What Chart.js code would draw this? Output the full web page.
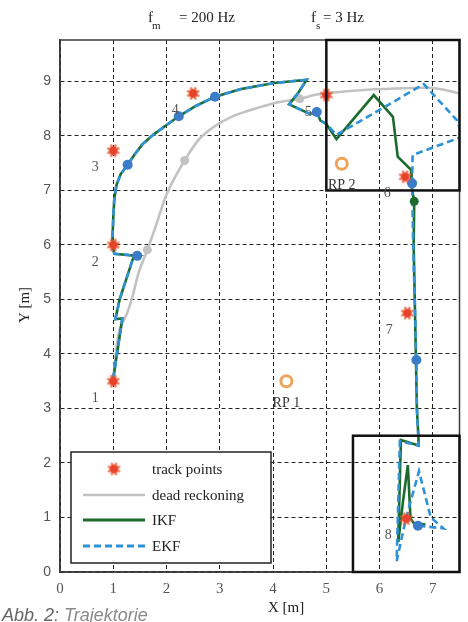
<!DOCTYPE html>
<html><head><meta charset="utf-8">
<script src="https://cdn.jsdelivr.net/npm/chart.js@4.4.1/dist/chart.umd.min.js"></script>
<style>html,body{margin:0;padding:0;background:#fff;}canvas{display:block;}</style>
</head><body>
<canvas id="c" width="468" height="622"></canvas>
<script>
// ---- data ----
const xTicks = [0,1,2,3,4,5,6,7];
const yTicks = [0,1,2,3,4,5,6,7,8,9];
const xMax = 7.5, yMax = 9.76;

const trackLabels = ['1','2','3','4','5','6','7','8'];
const trackX = [1.0, 1.0, 1.0, 2.5, 5.0, 6.48, 6.52, 6.5];
const trackY = [3.5, 6.0, 7.73, 8.78, 8.75, 7.25, 4.75, 0.98];

const rpLabels = ['RP 1','RP 2'];
const rpX = [4.25, 5.29];
const rpY = [3.5, 7.49];

const drX = [1.0,1.06,1.12,1.2,1.26,1.36,1.48,1.64,1.8,2.01,2.34,2.66,3.22,4.02,4.5,4.82,5.5,6.06,6.99,7.6];
const drY = [3.55,4.1,4.45,4.62,4.75,5.05,5.5,5.91,6.35,6.95,7.55,7.99,8.35,8.6,8.68,8.76,8.83,8.86,8.88,8.76];
const drDotX = [1.64, 2.34, 4.5];
const drDotY = [5.91, 7.55, 8.68];

const ikfX = [1.0,1.17,1.04,1.12,1.38,1.45,1.02,0.98,1.0,1.02,1.06,1.14,1.27,1.4,1.55,1.75,2.0,2.23,2.55,2.91,3.4,4.02,4.63,4.48,4.3,4.7,4.82,4.89,5.0,
              5.19,5.89,6.25,6.34,6.59,6.6,6.65,6.64,6.66,6.68,6.7,6.73,6.73,6.4,6.35,6.44,6.53,6.58,6.64,6.86];
const ikfY = [3.55,4.65,4.64,5.0,5.78,5.8,5.84,6.0,6.5,6.85,7.1,7.3,7.47,7.66,7.85,8.02,8.2,8.36,8.55,8.72,8.86,8.97,9.03,8.8,8.58,8.4,8.44,8.28,8.22,
              7.94,8.75,8.35,7.62,7.38,7.07,6.8,6.0,5.0,4.0,3.0,2.45,2.32,2.42,0.55,1.3,1.96,0.98,0.9,0.87];
const ikfDotX = [6.65];
const ikfDotY = [6.8];

const ekfX = [1.0,1.17,1.04,1.12,1.38,1.45,1.02,0.98,1.0,1.02,1.06,1.14,1.27,1.4,1.55,1.75,2.0,2.23,2.55,2.91,3.4,4.02,4.63,4.48,4.3,4.7,4.82,4.89,5.0,
              5.19,6.83,7.45,7.56,6.62,6.61,6.63,6.66,6.69,6.7,6.73,6.73,6.38,6.32,6.5,6.74,6.96,7.2,6.72];
const ekfY = [3.55,4.65,4.64,5.0,5.78,5.8,5.84,6.0,6.5,6.85,7.1,7.3,7.47,7.66,7.85,8.02,8.2,8.36,8.55,8.72,8.86,8.97,9.03,8.8,8.58,8.4,8.44,8.28,8.22,
              8.02,8.95,8.29,7.99,7.65,7.13,6.0,5.0,3.89,3.0,2.45,2.32,2.4,0.2,1.0,1.85,1.0,0.8,0.85];
const ekfDotX = [1.45,1.27,2.23,2.91,4.82,6.61,6.69,6.72];
const ekfDotY = [5.8,7.47,8.36,8.72,8.44,7.13,3.89,0.85];

const boxX0 = [5.0, 5.5];
const boxX1 = [7.5, 7.5];
const boxY0 = [7.0, 0.0];
const boxY1 = [9.76, 2.5];

const legendLabels = ['track points','dead reckoning','IKF','EKF'];

// ---- styles ----
const C_RED = '#e5432a', C_GRAY = '#c2c2c2', C_GREEN = '#1b6b2d', C_BLUE = '#2f92d8', C_DOT = '#3b7cc9', C_RP = '#f0a35a';
const SERIF = '"Liberation Serif","Times New Roman",serif';
const SANS = '"Liberation Sans",Arial,sans-serif';

function makeStar(){
  const cv = document.createElement('canvas'); cv.width = 15; cv.height = 15;
  const g = cv.getContext('2d'); const c = 7.5;
  g.strokeStyle = 'rgba(236,90,50,0.8)'; g.lineWidth = 2.6; g.lineCap = 'round';
  for (let k = 0; k < 4; k++) {
    const a = k * Math.PI / 4 + Math.PI / 8;
    g.beginPath(); g.moveTo(c - 5.5 * Math.cos(a), c - 5.5 * Math.sin(a)); g.lineTo(c + 5.5 * Math.cos(a), c + 5.5 * Math.sin(a)); g.stroke();
  }
  g.fillStyle = C_RED; g.beginPath(); g.arc(c, c, 4.2, 0, Math.PI * 2); g.fill();
  return cv;
}
const starImg = makeStar();

const pts = (xs, ys) => xs.map((x, i) => ({x, y: ys[i]}));

const deco = {
  id: 'deco',
  beforeDraw(c){ const g = c.ctx; g.save(); g.fillStyle = '#fff'; g.fillRect(0,0,c.width,c.height); g.restore(); },
  afterDatasetsDraw(c){
    const g = c.ctx, xs = c.scales.x, ys = c.scales.y, a = c.chartArea;
    g.save();
    // frame
    g.strokeStyle = '#3a3a3a'; g.lineWidth = 1.5; g.setLineDash([]);
    g.strokeRect(a.left, a.top, a.right - a.left, a.bottom - a.top);
    // zoom boxes
    g.strokeStyle = '#111'; g.lineWidth = 2.5;
    for (let i = 0; i < boxX0.length; i++) {
      const x0 = xs.getPixelForValue(boxX0[i]), x1 = xs.getPixelForValue(boxX1[i]);
      const y0 = ys.getPixelForValue(boxY0[i]), y1 = ys.getPixelForValue(boxY1[i]);
      g.strokeRect(x0, y1, x1 - x0, y0 - y1);
    }
    // point labels
    g.textAlign = 'center'; g.textBaseline = 'middle';
    g.font = '14px ' + SERIF; g.fillStyle = '#555';
    trackLabels.forEach((t, i) => g.fillText(t, xs.getPixelForValue(trackX[i]) - 18, ys.getPixelForValue(trackY[i]) + 17));
    g.fillStyle = '#333';
    rpLabels.forEach((t, i) => g.fillText(t, xs.getPixelForValue(rpX[i]), ys.getPixelForValue(rpY[i]) + 22));
    // legend
    const L = a.left + 11, B = a.bottom - 9, W = 200, H = 111, T = B - H;
    g.fillStyle = '#fff'; g.fillRect(L, T, W, H);
    g.strokeStyle = '#222'; g.lineWidth = 1.5; g.strokeRect(L, T, W, H);
    const rows = [T + 17, T + 43, T + 68, T + 94];
    const sx0 = L + 12, sx1 = L + 74, tx = L + 81;
    g.drawImage(starImg, (sx0 + sx1) / 2 - 7.5, rows[0] - 7.5);
    g.lineWidth = 2.5;
    g.strokeStyle = C_GRAY; g.beginPath(); g.moveTo(sx0, rows[1]); g.lineTo(sx1, rows[1]); g.stroke();
    g.strokeStyle = C_GREEN; g.lineWidth = 3; g.beginPath(); g.moveTo(sx0, rows[2]); g.lineTo(sx1, rows[2]); g.stroke();
    g.strokeStyle = C_BLUE; g.setLineDash([7,4]); g.beginPath(); g.moveTo(sx0, rows[3]); g.lineTo(sx1, rows[3]); g.stroke();
    g.setLineDash([]);
    g.textAlign = 'left'; g.font = '15px ' + SERIF; g.fillStyle = '#222';
    legendLabels.forEach((t, i) => g.fillText(t, tx, rows[i] + 1));
    g.restore();
  },
  afterDraw(c){
    const g = c.ctx;
    g.save();
    g.fillStyle = '#222'; g.textBaseline = 'alphabetic'; g.textAlign = 'left';
    // header: f_m = 200 Hz   f_s = 3 Hz
    g.font = '15px ' + SERIF;
    g.fillText('f', 148, 22); g.fillText('= 200 Hz', 179, 22);
    g.fillText('f', 311, 22); g.fillText('= 3 Hz', 323, 22);
    g.font = '11px ' + SERIF;
    g.fillText('m', 152, 29); g.fillText('s', 316, 29);
    // axis titles
    g.font = '15px ' + SERIF; g.textAlign = 'center'; g.textBaseline = 'middle';
    g.fillText('X [m]', 286, 608);
    g.save(); g.translate(25, 305); g.rotate(-Math.PI / 2); g.fillText('Y [m]', 0, 0); g.restore();
    // caption
    g.textAlign = 'left'; g.textBaseline = 'alphabetic';
    g.font = 'italic 18px ' + SANS;
    g.fillStyle = '#666'; g.fillText('Abb. 2:', 2, 621);
    const w = g.measureText('Abb. 2: ').width;
    g.fillStyle = '#8a8a8a'; g.fillText('Trajektorie', 2 + w, 621);
    g.restore();
  }
};

new Chart(document.getElementById('c'), {
  type: 'scatter',
  data: {
    datasets: [
      { label: 'track points', data: pts(trackX, trackY), pointStyle: starImg, pointRadius: 7, showLine: false },
      { label: 'RP', data: pts(rpX, rpY), pointStyle: 'circle', pointRadius: 5.5, borderWidth: 3, borderColor: C_RP, backgroundColor: '#fff', showLine: false },
      { label: 'EKF dots', data: pts(ekfDotX, ekfDotY), pointRadius: 5, backgroundColor: C_DOT, borderColor: C_DOT, borderWidth: 0, showLine: false },
      { label: 'IKF dots', data: pts(ikfDotX, ikfDotY), pointRadius: 4.5, backgroundColor: C_GREEN, borderColor: C_GREEN, borderWidth: 0, showLine: false },
      { label: 'EKF', data: pts(ekfX, ekfY), showLine: true, borderColor: C_BLUE, borderWidth: 2.6, borderDash: [7,4], pointRadius: 0, tension: 0 },
      { label: 'IKF', data: pts(ikfX, ikfY), showLine: true, borderColor: C_GREEN, borderWidth: 2.6, pointRadius: 0, tension: 0 },
      { label: 'DR dots', data: pts(drDotX, drDotY), pointRadius: 4.5, backgroundColor: C_GRAY, borderColor: C_GRAY, borderWidth: 0, showLine: false },
      { label: 'dead reckoning', data: pts(drX, drY), showLine: true, borderColor: C_GRAY, borderWidth: 2.6, pointRadius: 0, tension: 0.3 }
    ]
  },
  options: {
    responsive: false, animation: false, devicePixelRatio: 1,
    layout: { padding: { top: 40, right: 4, left: 0, bottom: 0 } },
    plugins: { legend: { display: false }, tooltip: { enabled: false } },
    scales: {
      x: {
        type: 'linear', min: 0, max: xMax,
        afterBuildTicks: s => { s.ticks = xTicks.map(v => ({value: v})); },
        afterFit: s => { s.height = 50; },
        grid: { color: '#222', lineWidth: 1, drawTicks: false },
        border: { display: true, color: '#3a3a3a', width: 1.5, dash: [4,3] },
        ticks: { padding: 8, color: '#555', font: { family: SERIF, size: 15 }, maxRotation: 0 }
      },
      y: {
        type: 'linear', min: 0, max: yMax,
        afterBuildTicks: s => { s.ticks = yTicks.map(v => ({value: v})); },
        afterFit: s => { s.width = 60; },
        grid: { color: '#222', lineWidth: 1, drawTicks: false },
        border: { display: true, color: '#3a3a3a', width: 1.5, dash: [4,3] },
        ticks: { padding: 9, color: '#555', font: { family: SANS, size: 14 } }
      }
    }
  },
  plugins: [deco]
});
</script>
</body></html>
